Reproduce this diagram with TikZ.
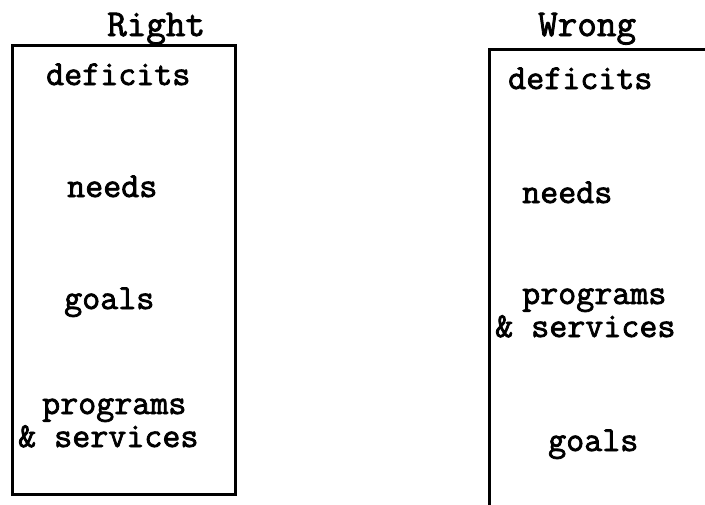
\documentclass[tikz,border=0pt]{standalone}
\usepackage{fontspec}
\newfontfamily\typed{Latin Modern Mono}[FakeBold=2.2]
\begin{document}
\begin{tikzpicture}[x=1pt,y=1pt,
  frame/.style={line width=3pt, line cap=rect},
  title/.style={font=\typed\fontsize{38}{40}\selectfont, anchor=base west, inner sep=0pt},
  item/.style={font=\typed\fontsize{35}{37}\selectfont, anchor=base west, inner sep=0pt}]
  \useasboundingbox (0,0) rectangle (705,-504);

  % "Right" ordering: deficits -> needs -> goals -> programs
  \node[title] (rt) at (107,-36) {Right};
  \coordinate (la) at (12,-45);
  \coordinate (lb) at (235,-494);
  \draw[frame] (la) rectangle (lb);
  \node[item] (l1) at (46,-85) {deficits};
  \node[item] (l2) at (67,-197) {needs};
  \node[item] (l3) at (64,-309) {goals};
  \node[item] (l4) at (42,-414) {programs};
  \node[item] (l5) at (18,-447) {\& services};

  % "Wrong" ordering: programs placed before goals
  \node[title] (wt) at (538,-36) {Wrong};
  \coordinate (ra) at (705,-49);
  \coordinate (rb) at (489,-49);
  \coordinate (rc) at (489,-504);
  \draw[frame] (ra) -- (rb) -- (rc);
  \node[item] (r1) at (508,-89) {deficits};
  \node[item] (r2) at (522,-203) {needs};
  \node[item] (r3) at (522,-304) {programs};
  \node[item] (r4) at (495,-337) {\& services};
  \node[item] (r5) at (548,-451) {goals};
\end{tikzpicture}
\end{document}
